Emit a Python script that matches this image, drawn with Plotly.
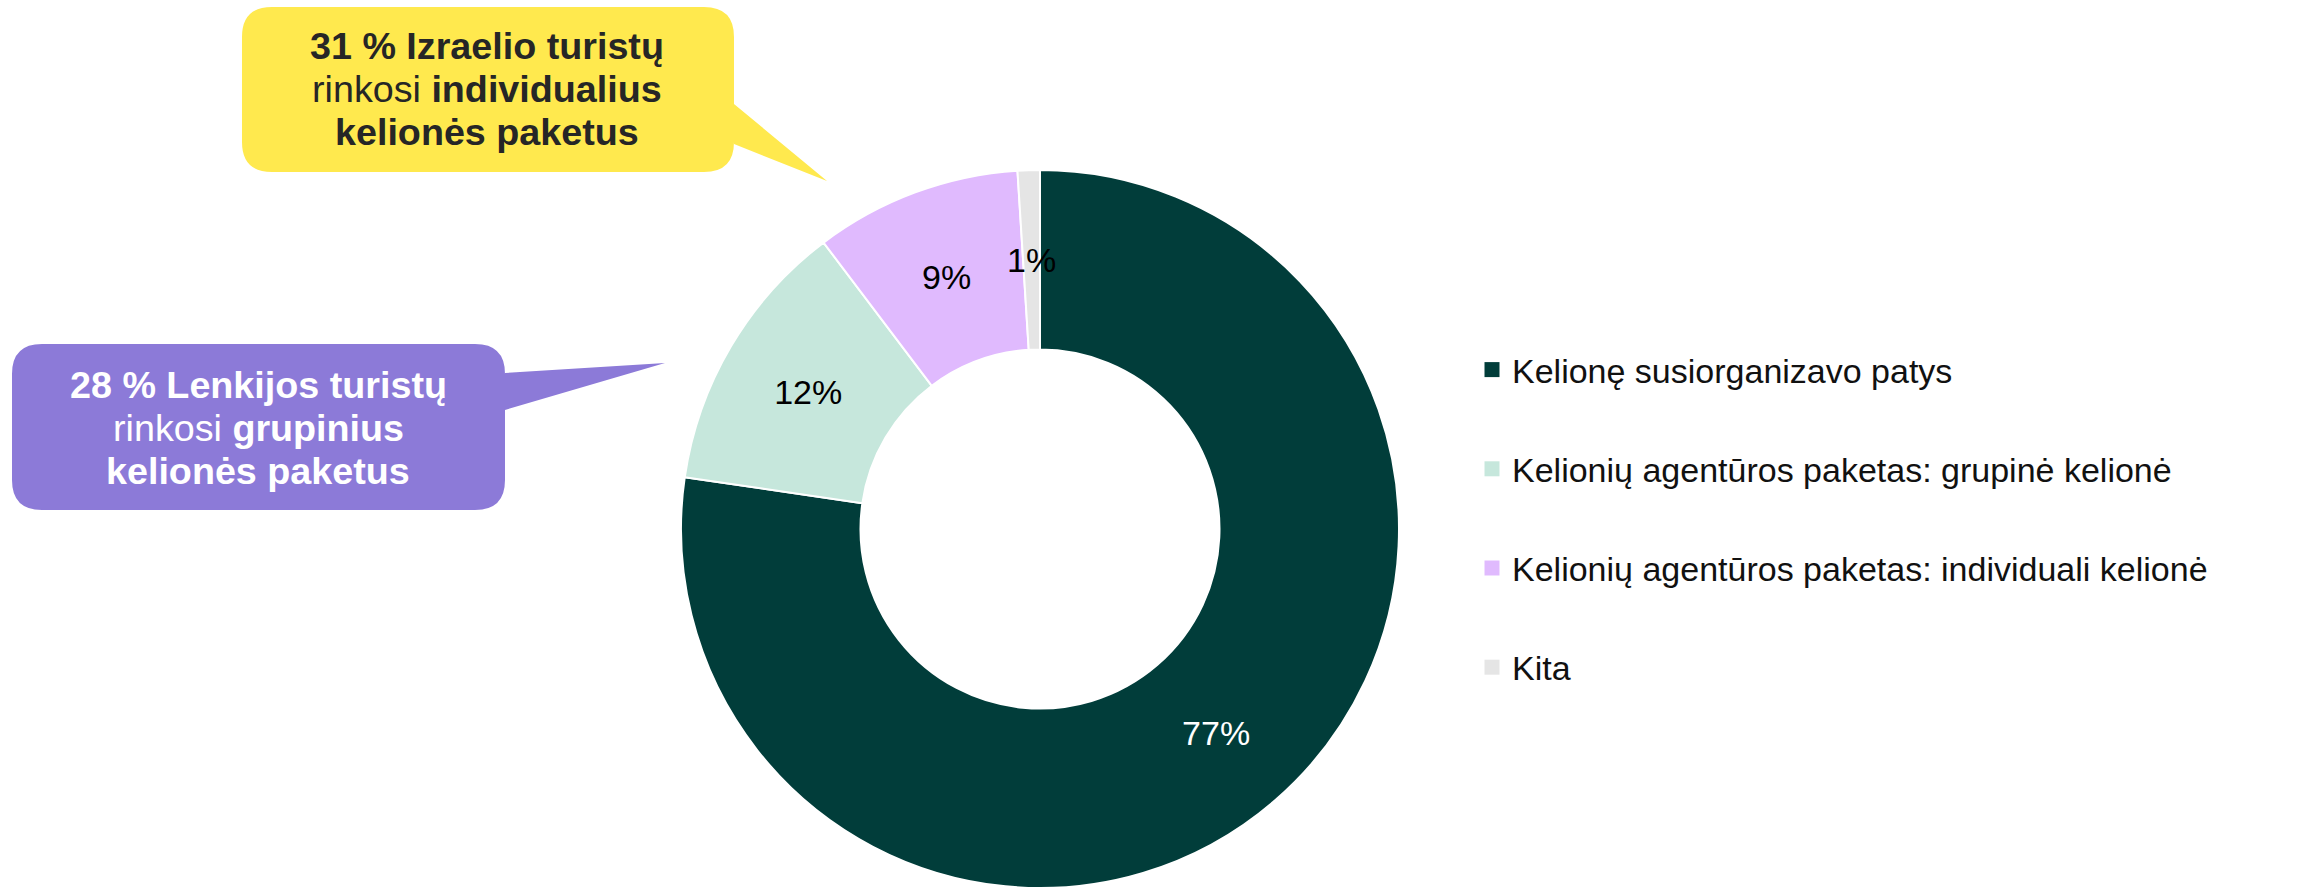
import math
import plotly.graph_objects as go

W, H = 2303, 888

# ---- data ----
categories = [
    "Kelionę susiorganizavo patys",
    "Kelionių agentūros paketas: grupinė kelionė",
    "Kelionių agentūros paketas: individuali kelionė",
    "Kita",
]
values = [77.3, 12.4, 9.3, 1.0]
colors = ["#013D3A", "#C6E7DC", "#E0BAFE", "#E5E5E5"]
label_colors = ["#FFFFFF", "#000000", "#000000", "#000000"]
# slices whose label is drawn by the pie itself (others are placed mid-ring)
pie_labelled = [True, True, False, False]

yellow_lines = [
    "<b>31 % Izraelio turistų</b>",
    "rinkosi <b>individualius</b>",
    "<b>kelionės paketus</b>",
]
purple_lines = [
    "<b>28 % Lenkijos turistų</b>",
    "rinkosi <b>grupinius</b>",
    "<b>kelionės paketus</b>",
]

FONT = "Liberation Sans, Arial, sans-serif"
HOLE = 0.5


def px(x):
    return x / W


def py(y):
    return 1 - y / H


def bubble_path(x0, y0, x1, y1, r, tail_top, tail_bot, tip):
    """Rounded rectangle with a tail on the right edge, in paper coords."""
    def P(x, y):
        return f"{px(x):.5f},{py(y):.5f}"
    d = f"M {P(x0 + r, y0)} L {P(x1 - r, y0)} Q {P(x1, y0)} {P(x1, y0 + r)} "
    d += f"L {P(x1, tail_top)} L {P(tip[0], tip[1])} L {P(x1, tail_bot)} "
    d += f"L {P(x1, y1 - r)} Q {P(x1, y1)} {P(x1 - r, y1)} "
    d += f"L {P(x0 + r, y1)} Q {P(x0, y1)} {P(x0, y1 - r)} "
    d += f"L {P(x0, y0 + r)} Q {P(x0, y0)} {P(x0 + r, y0)} Z"
    return d


fig = go.Figure()

# donut geometry
pie_top, pie_bot = 170, 888
pie_cx = 1040
rad = (pie_bot - pie_top) / 2
pie_cy = pie_top + rad

fig.add_trace(go.Pie(
    labels=categories,
    values=values,
    sort=False,
    direction="clockwise",
    rotation=0,
    hole=HOLE,
    marker=dict(colors=colors, line=dict(color="#FFFFFF", width=2)),
    texttemplate=["%{percent:.0%}" if s else "" for s in pie_labelled],
    textposition="inside",
    insidetextorientation="horizontal",
    textfont=dict(family=FONT, size=34, color=label_colors),
    showlegend=False,
    domain=dict(x=[px(pie_cx - rad), px(pie_cx + rad)], y=[py(pie_bot), py(pie_top)]),
))

# legend entries (one group each so they can be spaced)
for cat, col in zip(categories, colors):
    fig.add_trace(go.Scatter(
        x=[None], y=[None], mode="markers", name=cat,
        legendgroup=cat,
        marker=dict(symbol="square", size=15, color=col, line=dict(width=0)),
        showlegend=True,
    ))

shapes = [
    dict(type="path", xref="paper", yref="paper", layer="below",
         path=bubble_path(242, 7, 734, 172, 30, 104, 144, (827, 181)),
         fillcolor="#FFE94E", line=dict(width=0)),
    dict(type="path", xref="paper", yref="paper", layer="below",
         path=bubble_path(12, 344, 505, 510, 30, 373, 410, (665, 363)),
         fillcolor="#8C7AD8", line=dict(width=0)),
]

annotations = []

# labels of thin slices, placed at the middle of the ring on the slice bisector
total = sum(values)
cum = 0.0
r_mid = rad * (1 + HOLE) / 2
for v, show_in_pie, col in zip(values, pie_labelled, label_colors):
    mid = (cum + v / 2) / total * 2 * math.pi  # clockwise from 12 o'clock
    cum += v
    if show_in_pie:
        continue
    lx = pie_cx + r_mid * math.sin(mid)
    ly = pie_cy - r_mid * math.cos(mid)
    annotations.append(dict(x=px(lx), y=py(ly), xref="paper", yref="paper",
                            text=f"{round(v / total * 100)}%", showarrow=False,
                            xanchor="center", yanchor="middle",
                            font=dict(family=FONT, size=34, color=col)))

for i, t in enumerate(yellow_lines):
    annotations.append(dict(x=px(487), y=py(46 + 43 * i), xref="paper", yref="paper",
                            text=t, showarrow=False, xanchor="center", yanchor="middle",
                            font=dict(family=FONT, size=37.7, color="#262626")))
for i, t in enumerate(purple_lines):
    annotations.append(dict(x=px(258), y=py(385 + 43 * i), xref="paper", yref="paper",
                            text=t, showarrow=False, xanchor="center", yanchor="middle",
                            font=dict(family=FONT, size=37.7, color="#FFFFFF")))

fig.update_layout(
    width=W, height=H,
    margin=dict(l=0, r=0, t=0, b=0),
    paper_bgcolor="white", plot_bgcolor="white",
    xaxis=dict(visible=False), yaxis=dict(visible=False),
    shapes=shapes,
    annotations=annotations,
    uniformtext=dict(minsize=34, mode="show"),
    legend=dict(
        x=px(1472), y=py(341), xanchor="left", yanchor="top",
        font=dict(family=FONT, size=34, color="#111111"),
        tracegroupgap=52,
        bgcolor="rgba(0,0,0,0)",
        itemsizing="trace",
    ),
    font=dict(family=FONT),
)

fig.write_html(
    "out.html",
    config={"displayModeBar": False},
    post_script="document.body.style.margin='0';document.body.style.overflow='hidden';",
)
